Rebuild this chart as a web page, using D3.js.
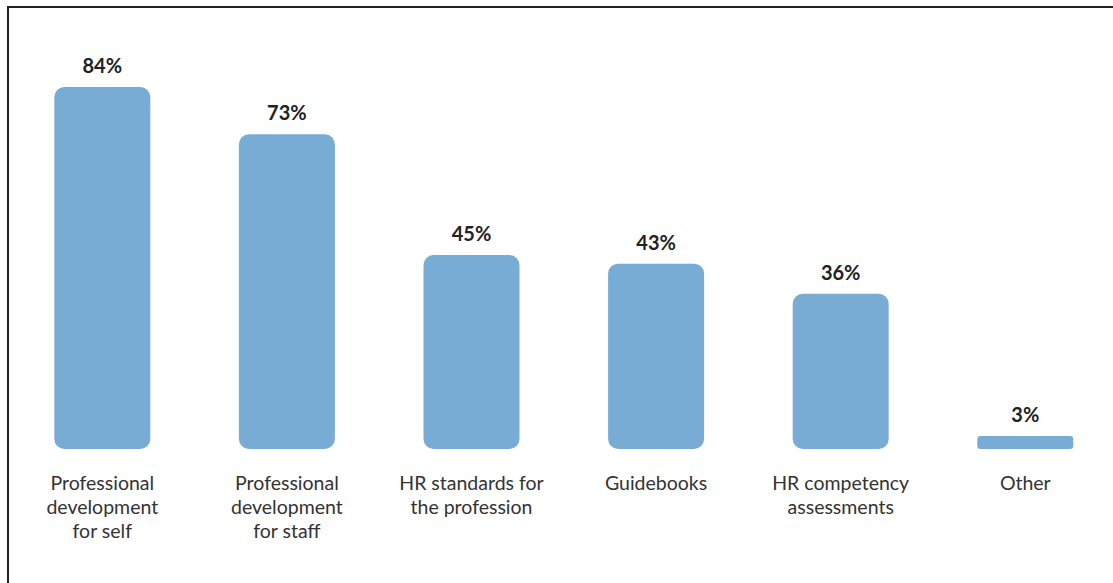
<!DOCTYPE html>
<html>
<head>
<meta charset="utf-8">
<script src="https://cdn.jsdelivr.net/npm/d3@7"></script>
<style>
  html, body { margin: 0; padding: 0; background: #fff; }
  svg { display: block; }
</style>
</head>
<body>
<svg id="chart" width="1113" height="583"></svg>
<script>
// Survey results: share of respondents using each resource
const categories = [
  ["Professional", "development", "for self"],
  ["Professional", "development", "for staff"],
  ["HR standards for", "the profession"],
  ["Guidebooks"],
  ["HR competency", "assessments"],
  ["Other"]
];
const values = [84, 73, 45, 43, 36, 3];

const W = 1113, H = 583;
const svg = d3.select("#chart");

// Frame around the panel
svg.append("path")
  .attr("d", `M8,${H} L8,7 L${W},7`)
  .attr("fill", "none")
  .attr("stroke", "#222")
  .attr("stroke-width", 2);

const x = d3.scaleBand()
  .domain(d3.range(values.length))
  .range([10, 1117.6])
  .paddingInner(0.48)
  .paddingOuter(0.24);

const y = d3.scaleLinear()
  .domain([0, 100])
  .range([449, 18]);

const g = svg.append("g");

// Rounded bars
g.selectAll("rect.bar")
  .data(values)
  .join("rect")
  .attr("class", "bar")
  .attr("x", (d, i) => x(i))
  .attr("y", d => y(d))
  .attr("width", x.bandwidth())
  .attr("height", d => y(0) - y(d))
  .attr("rx", d => Math.min(10, (y(0) - y(d)) / 4))
  .attr("fill", "#79acd4");

// Value labels
g.selectAll("text.value")
  .data(values)
  .join("text")
  .attr("class", "value")
  .attr("x", (d, i) => x(i) + x.bandwidth() / 2)
  .attr("y", d => y(d) - 14)
  .attr("text-anchor", "middle")
  .attr("font-family", "Lato, sans-serif")
  .attr("font-weight", 700)
  .attr("font-size", 20)
  .attr("fill", "#222")
  .text(d => d + "%");

// Category labels
const cat = g.selectAll("text.cat")
  .data(categories)
  .join("text")
  .attr("class", "cat")
  .attr("x", (d, i) => x(i) + x.bandwidth() / 2)
  .attr("y", 489.5)
  .attr("text-anchor", "middle")
  .attr("font-family", "Lato, sans-serif")
  .attr("font-size", 19.5)
  .attr("fill", "#333");

cat.selectAll("tspan")
  .data((d, i) => d.map(t => ({ t, i })))
  .join("tspan")
  .attr("x", d => x(d.i) + x.bandwidth() / 2)
  .attr("dy", (d, j) => j === 0 ? 0 : 24)
  .text(d => d.t);
</script>
</body>
</html>
